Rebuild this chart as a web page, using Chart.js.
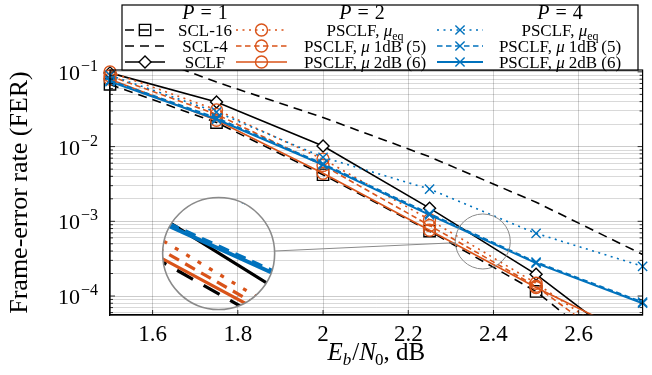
<!DOCTYPE html>
<html>
<head>
<meta charset="utf-8">
<script src="https://cdn.jsdelivr.net/npm/chart.js@4/dist/chart.umd.min.js"></script>
<style>
  html, body { margin: 0; padding: 0; background: #fff; }
</style>
</head>
<body>
<canvas id="fer" width="652" height="375"></canvas>
<script>
// Eb/N0 points, dB
const snr = [1.5, 1.75, 2.0, 2.25, 2.5, 2.75];

// P = 1
const scl16 = [0.068, 0.021, 0.0042, 0.00074, 0.000115, 0.0000083];
const scl4 = [0.25, 0.073, 0.0245, 0.0073, 0.0018, 0.00036];
const sclf = [0.097, 0.0396, 0.0102, 0.0015, 0.000195, 0.000016];
// P = 2
const p2Eq = [0.100, 0.031, 0.0068, 0.00105, 0.000148, 0.000016];
const p2Mu1 = [0.088, 0.027, 0.0056, 0.00088, 0.000135, 0.000012];
const p2Mu2 = [0.080, 0.0225, 0.0044, 0.00076, 0.00013, 0.000026];
// P = 4
const p4Eq = [0.090, 0.029, 0.0072, 0.0027, 0.00069, 0.00025];
const p4Mu1 = [0.077, 0.0243, 0.0059, 0.00127, 0.000285, 0.000083];
const p4Mu2 = [0.074, 0.0232, 0.0057, 0.00122, 0.000275, 0.00008];

// ticks
const xTicks = [1.6, 1.8, 2, 2.2, 2.4, 2.6];
const yMajor = [1e-1, 1e-2, 1e-3, 1e-4];
const yExp = ['−1', '−2', '−3', '−4'];

// legend text
const pHeads = ['1', '2', '4'];
const sclNames = ['SCL-16', 'SCL-4', 'SCLF'];
const psclfNames = ['eq', '1dB (5)', '2dB (6)'];

const ORANGE = '#D95319';
const BLUE = '#0072BD';
const BLACK = '#000000';
const DOT = [2, 4.5];
const DASH = [9, 6];
const DASH2 = [5.5, 3.5];
const FONT = '"Liberation Serif", "Times New Roman", serif';

function ds(label, data, color, dash, style, radius, fill) {
  return {
    label: label,
    data: snr.map((x, i) => ({ x: x, y: data[i] })),
    borderColor: color,
    backgroundColor: color,
    borderWidth: 1.6,
    borderDash: dash,
    pointStyle: style || 'circle',
    pointRadius: style ? radius : 0,
    pointHoverRadius: style ? radius : 0,
    pointBorderColor: color,
    pointBackgroundColor: fill || 'rgba(0,0,0,0)',
    pointBorderWidth: 1.4,
    tension: 0,
    clip: { left: 12, top: 8, right: 12, bottom: 0 }
  };
}

const datasets = [
  ds('SCL-16', scl16, BLACK, DASH, 'rect', 8),
  ds('SCL-4', scl4, BLACK, DASH, null, 0),
  ds('SCLF', sclf, BLACK, [], 'rectRot', 6, '#fff'),
  ds('P2 eq', p2Eq, ORANGE, DOT, 'circle', 6),
  ds('P2 1dB', p2Mu1, ORANGE, DASH2, 'circle', 6),
  ds('P2 2dB', p2Mu2, ORANGE, [], 'circle', 6),
  ds('P4 eq', p4Eq, BLUE, DOT, 'crossRot', 6.5),
  ds('P4 1dB', p4Mu1, BLUE, DASH2, 'crossRot', 6.5),
  ds('P4 2dB', p4Mu2, BLUE, [], 'crossRot', 6.5)
];
datasets.forEach((d, i) => { d.order = 100 - i; });
datasets[8].borderWidth = 2;

function font(size, italic) {
  return (italic ? 'italic ' : '') + size + 'px ' + FONT;
}

// parts: [text, size, italic, dy, gapAfter]
function rich(ctx, parts, x, y, align) {
  let w = 0;
  parts.forEach(p => { ctx.font = font(p[1], p[2]); w += ctx.measureText(p[0]).width + (p[4] || 0); });
  let cx = align === 'center' ? x - w / 2 : (align === 'right' ? x - w : x);
  ctx.textAlign = 'left';
  ctx.textBaseline = 'alphabetic';
  ctx.fillStyle = '#000';
  parts.forEach(p => {
    ctx.font = font(p[1], p[2]);
    ctx.fillText(p[0], cx, y + (p[3] || 0));
    cx += ctx.measureText(p[0]).width + (p[4] || 0);
  });
}

function sample(ctx, d, x0, x1, y) {
  ctx.save();
  ctx.strokeStyle = d.borderColor;
  ctx.lineWidth = d.borderWidth;
  ctx.setLineDash(d.borderDash);
  ctx.beginPath();
  ctx.moveTo(x0, y);
  ctx.lineTo(x1, y);
  ctx.stroke();
  ctx.setLineDash([]);
  if (d.pointRadius > 0) {
    ctx.fillStyle = d.pointBackgroundColor;
    ctx.strokeStyle = d.pointBorderColor;
    ctx.lineWidth = d.pointBorderWidth;
    Chart.helpers.drawPoint(ctx, { pointStyle: d.pointStyle, radius: d.pointRadius, rotation: 0, borderWidth: d.pointBorderWidth }, (x0 + x1) / 2, y);
  }
  ctx.restore();
}

// zoom lens: small circle around (2.375, 5.37e-4) shown enlarged around (1.755, 3.7e-4)
const lensFrom = { x: 2.375, y: 5.37e-4, r: 27.5 };
const lensTo = { x: 1.755, y: 3.7e-4, r: 56 };

const deco = {
  id: 'deco',
  afterDatasetsDraw(chart) {
    const { ctx, scales: { x, y } } = chart;
    const sx = x.getPixelForValue(lensFrom.x), sy = y.getPixelForValue(lensFrom.y);
    const bx = x.getPixelForValue(lensTo.x), by = y.getPixelForValue(lensTo.y);
    const k = lensTo.r / lensFrom.r;
    ctx.save();
    ctx.beginPath();
    ctx.arc(bx, by, lensTo.r, 0, Math.PI * 2);
    ctx.clip();
    ctx.translate(bx, by);
    ctx.scale(k, k);
    ctx.translate(-sx, -sy);
    chart.data.datasets.forEach((d, i) => {
      const pts = chart.getDatasetMeta(i).data;
      ctx.beginPath();
      pts.forEach((p, j) => { if (j === 0) ctx.moveTo(p.x, p.y); else ctx.lineTo(p.x, p.y); });
      ctx.strokeStyle = d.borderColor;
      ctx.lineWidth = d.borderWidth;
      ctx.setLineDash(d.borderDash);
      ctx.stroke();
    });
    ctx.restore();

    ctx.save();
    ctx.strokeStyle = '#8a8a8a';
    ctx.lineWidth = 1.6;
    ctx.beginPath();
    ctx.arc(bx, by, lensTo.r, 0, Math.PI * 2);
    ctx.stroke();
    ctx.lineWidth = 1;
    ctx.beginPath();
    ctx.arc(sx, sy, lensFrom.r, 0, Math.PI * 2);
    ctx.stroke();
    const dx = sx - bx, dy = sy - by, L = Math.hypot(dx, dy);
    ctx.beginPath();
    ctx.moveTo(bx + dx / L * lensTo.r, by + dy / L * lensTo.r);
    ctx.lineTo(sx - dx / L * lensFrom.r, sy - dy / L * lensFrom.r);
    ctx.stroke();
    ctx.restore();
  },
  afterDraw(chart) {
    const { ctx, chartArea: a, scales: { x, y } } = chart;

    // frame and inner ticks
    ctx.save();
    ctx.strokeStyle = '#000';
    ctx.lineWidth = 1.2;
    ctx.strokeRect(a.left, a.top, a.right - a.left, a.bottom - a.top);
    ctx.lineWidth = 0.8;
    ctx.beginPath();
    y.ticks.forEach(t => {
      const py = y.getPixelForValue(t.value);
      const len = t.major ? 5 : 3;
      ctx.moveTo(a.left, py); ctx.lineTo(a.left + len, py);
      ctx.moveTo(a.right, py); ctx.lineTo(a.right - len, py);
    });
    xTicks.forEach(v => {
      const px = x.getPixelForValue(v);
      ctx.moveTo(px, a.bottom); ctx.lineTo(px, a.bottom - 5);
    });
    ctx.stroke();
    ctx.restore();

    // y tick labels 10^k
    yMajor.forEach((v, i) => {
      const py = y.getPixelForValue(v);
      rich(ctx, [['10', 22, false, 0, 1], [yExp[i], 16, false, -9]], 98, py + 8, 'right');
    });

    // x axis title
    rich(ctx, [['E', 25, true], ['b', 17, true, 5, 1], ['/', 25, false], ['N', 25, true, 0, -1], ['0', 17, false, 5], [', dB', 25, false]],
      (a.left + a.right) / 2, 360, 'center');

    // legend
    const ds_ = chart.data.datasets;
    ctx.save();
    ctx.fillStyle = '#fff';
    ctx.fillRect(122, 5, 516, 65);
    ctx.strokeStyle = '#000';
    ctx.lineWidth = 1.2;
    ctx.strokeRect(122, 5, 516, 65);
    ctx.restore();
    const heads = [205, 362, 560];
    pHeads.forEach((p, i) => {
      rich(ctx, [['P', 20, true, 0, 6], ['=', 20, false, 0, 6], [p, 20, false]], heads[i], 19, 'center');
    });
    const rows = [30, 46, 62];
    const cols = [[125, 165, 205], [236, 287, 365], [437, 483, 560]];
    rows.forEach((ry, r) => {
      sample(ctx, ds_[r], cols[0][0], cols[0][1], ry);
      rich(ctx, [[sclNames[r], 17, false]], cols[0][2], ry + 5.5, 'center');
      for (let c = 1; c <= 2; c++) {
        sample(ctx, ds_[r + 3 * c], cols[c][0], cols[c][1], ry);
        const parts = r === 0
          ? [['PSCLF, ', 17, false], ['μ', 17, true], [psclfNames[r], 12, false, 4]]
          : [['PSCLF, ', 17, false], ['μ', 17, true, 0, 4], [psclfNames[r], 17, false]];
        rich(ctx, parts, cols[c][2], ry + 5.5, 'center');
      }
    });
  }
};

const ctx = document.getElementById('fer').getContext('2d');
new Chart(ctx, {
  type: 'line',
  data: { datasets: datasets },
  options: {
    responsive: false,
    animation: false,
    devicePixelRatio: 1,
    events: [],
    layout: { padding: { top: 70, right: 1, left: 0, bottom: 0 } },
    plugins: { legend: { display: false }, tooltip: { enabled: false } },
    scales: {
      x: {
        type: 'linear',
        min: 1.5,
        max: 2.75,
        afterBuildTicks: s => { s.ticks = xTicks.map(v => ({ value: v })); },
        afterFit: s => { s.height = 60; },
        ticks: {
          color: '#000',
          font: { family: FONT, size: 23 },
          padding: 6,
          maxRotation: 0,
          callback: v => String(v)
        },
        grid: { color: 'rgba(0,0,0,0.18)', lineWidth: 1, drawTicks: false },
        border: { color: '#000', width: 1.2 }
      },
      y: {
        type: 'logarithmic',
        min: 5.57e-5,
        max: 0.106,
        afterBuildTicks: s => {
          const t = [];
          for (let e = -5; e <= -1; e++) {
            for (let m = 1; m <= 9; m++) {
              const v = m * Math.pow(10, e);
              if (v >= s.min && v <= s.max) t.push({ value: v, major: m === 1 });
            }
          }
          s.ticks = t;
        },
        afterFit: s => { s.width = 110; },
        ticks: { display: false },
        grid: {
          color: c => (c.tick && c.tick.major) ? 'rgba(0,0,0,0.2)' : 'rgba(0,0,0,0.15)',
          lineWidth: 1,
          drawTicks: false
        },
        border: { color: '#000', width: 1.2 },
        title: {
          display: true,
          text: 'Frame-error rate (FER)',
          color: '#000',
          font: { family: FONT, size: 26 },
          padding: { top: 5, bottom: 0 }
        }
      }
    }
  },
  plugins: [deco]
});
</script>
</body>
</html>
